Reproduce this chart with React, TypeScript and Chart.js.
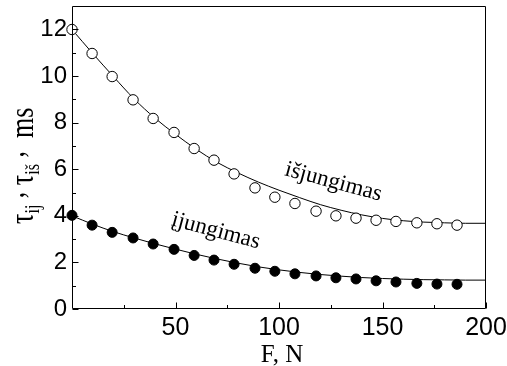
import React, { useEffect, useRef } from "react";
import { Chart, registerables } from "chart.js";
Chart.register(...registerables);

// Measured points
const forceN = [0, 9.7, 19.4, 29.5, 39.2, 49.3, 59, 68.6, 78.3, 88.4, 98, 107.7, 117.9, 127.5, 137.2, 146.9, 156.5, 166.6, 176.3, 186];
const offTimes = [12.0, 10.97, 9.98, 8.98, 8.18, 7.58, 6.89, 6.39, 5.8, 5.2, 4.8, 4.53, 4.2, 4.0, 3.9, 3.81, 3.76, 3.7, 3.66, 3.6];
const onTimes = [4.02, 3.6, 3.29, 3.05, 2.79, 2.56, 2.3, 2.1, 1.92, 1.75, 1.62, 1.51, 1.42, 1.34, 1.29, 1.21, 1.16, 1.1, 1.07, 1.06];

// Fitted curves
const fitForce = [0, 10, 20, 30, 40, 50, 60, 70, 80, 90, 100, 110, 120, 130, 140, 150, 160, 170, 180, 190, 200];
const offFit = [12.0, 10.97, 9.98, 9.02, 8.2, 7.5, 6.86, 6.3, 5.85, 5.45, 5.1, 4.78, 4.48, 4.24, 4.04, 3.89, 3.79, 3.73, 3.7, 3.68, 3.68];
const onFit = [4.0, 3.64, 3.32, 3.05, 2.8, 2.57, 2.35, 2.15, 1.97, 1.81, 1.68, 1.57, 1.48, 1.41, 1.35, 1.31, 1.28, 1.26, 1.25, 1.24, 1.24];

// Axis ticks
const xTicks = [50, 100, 150, 200];
const xMinor = [25, 75, 125, 175];
const yTicks = [0, 2, 4, 6, 8, 10, 12];
const yMinor = [1, 3, 5, 7, 9, 11];

const offLabel = "išjungimas";
const onLabel = "įjungimas";
const xTitle = "F, N";

const SERIF = "'Liberation Serif', 'Times New Roman', serif";
const SANS = "'Liberation Sans', Arial, sans-serif";

const framePlugin = {
  id: "frame",
  afterDraw(chart: any) {
    const { ctx, chartArea: a, scales } = chart;
    const sx = scales.x;
    const sy = scales.y;
    ctx.save();
    ctx.strokeStyle = "#000";
    ctx.lineWidth = 1;
    const L = Math.round(a.left) + 0.5;
    const R = Math.round(a.right) - 0.5;
    const T = Math.round(a.top) + 0.5;
    const B = Math.round(a.bottom) - 0.5;
    ctx.beginPath();
    ctx.moveTo(L, T);
    ctx.lineTo(R, T);
    ctx.lineTo(R, B);
    ctx.lineTo(L, B);
    ctx.closePath();
    for (const v of yTicks) {
      const p = Math.round(sy.getPixelForValue(v)) + 0.5;
      ctx.moveTo(L, p);
      ctx.lineTo(L + 6, p);
    }
    for (const v of yMinor) {
      const p = Math.round(sy.getPixelForValue(v)) + 0.5;
      ctx.moveTo(L, p);
      ctx.lineTo(L + 3.5, p);
    }
    for (const v of xTicks) {
      const p = Math.round(sx.getPixelForValue(v)) + 0.5;
      ctx.moveTo(p, B);
      ctx.lineTo(p, B - 6);
    }
    for (const v of xMinor) {
      const p = Math.round(sx.getPixelForValue(v)) + 0.5;
      ctx.moveTo(p, B);
      ctx.lineTo(p, B - 3.5);
    }
    ctx.stroke();

    ctx.fillStyle = "#000";
    // curve labels
    const drawRot = (txt: string, fx: number, fy: number) => {
      ctx.save();
      ctx.translate(sx.getPixelForValue(fx), sy.getPixelForValue(fy));
      ctx.rotate((15 * Math.PI) / 180);
      ctx.font = `23px ${SERIF}`;
      ctx.textAlign = "center";
      ctx.textBaseline = "middle";
      ctx.fillText(txt, 0, 0);
      ctx.restore();
    };
    drawRot(offLabel, 126.3, 5.45);
    drawRot(onLabel, 69.5, 3.35);

    // x title
    ctx.font = `25px ${SERIF}`;
    ctx.textAlign = "center";
    ctx.textBaseline = "alphabetic";
    ctx.fillText(xTitle, (a.left + a.right) / 2 + 3, 362);

    // y title with subscripts
    ctx.save();
    ctx.translate(33, 224);
    ctx.rotate(-Math.PI / 2);
    ctx.scale(1, 1.3);
    ctx.textAlign = "left";
    ctx.textBaseline = "alphabetic";
    let u = 0;
    const big = `26px ${SERIF}`;
    const small = `16px ${SERIF}`;
    const put = (t: string, f: string, dv: number) => {
      ctx.font = f;
      ctx.fillText(t, u, dv);
      u += ctx.measureText(t).width;
    };
    put("τ", big, 0);
    put("ij", small, 4.5);
    put(" ,", big, -7);
    put(" τ", big, 0);
    put("iš", small, 4.5);
    put(" ,", big, -7);
    put("  ms", big, 0);
    ctx.restore();

    ctx.restore();
  },
};

export default function App() {
  const ref = useRef<HTMLCanvasElement | null>(null);
  useEffect(() => {
    if (!ref.current) return;
    const pts = (xs: number[], ys: number[]) => xs.map((x, i) => ({ x, y: ys[i] }));
    const chart = new Chart(ref.current, {
      type: "scatter",
      data: {
        datasets: [
          {
            data: pts(forceN, offTimes),
            showLine: false,
            pointRadius: 5.2,
            pointBackgroundColor: "#fff",
            pointBorderColor: "#000",
            pointBorderWidth: 1,
            clip: false,
          },
          {
            data: pts(forceN, onTimes),
            showLine: false,
            pointRadius: 5,
            pointBackgroundColor: "#000",
            pointBorderColor: "#000",
            pointBorderWidth: 1,
            clip: false,
          },
          {
            data: pts(fitForce, offFit),
            showLine: true,
            pointRadius: 0,
            borderColor: "#000",
            borderWidth: 1,
            cubicInterpolationMode: "monotone",
          },
          {
            data: pts(fitForce, onFit),
            showLine: true,
            pointRadius: 0,
            borderColor: "#000",
            borderWidth: 1,
            cubicInterpolationMode: "monotone",
          },
        ],
      } as any,
      options: {
        animation: false,
        responsive: false,
        devicePixelRatio: 1,
        layout: { padding: { top: 6, right: 21, left: 0, bottom: 0 } },
        plugins: { legend: { display: false }, tooltip: { enabled: false } },
        scales: {
          x: {
            type: "linear",
            min: 0,
            max: 200,
            grid: { display: false, drawTicks: false },
            border: { display: false },
            ticks: { color: "#000", font: { family: SANS, size: 25 }, padding: 4, maxRotation: 0, autoSkip: false },
            afterBuildTicks: (s: any) => {
              s.ticks = xTicks.map((v) => ({ value: v }));
            },
            afterFit: (s: any) => {
              s.height = 57;
              s.paddingLeft = 0;
              s.paddingRight = 0;
            },
          },
          y: {
            type: "linear",
            min: 0,
            max: 13,
            grid: { display: false, drawTicks: false },
            border: { display: false },
            ticks: { color: "#000", font: { family: SANS, size: 24 }, padding: 5, autoSkip: false },
            afterBuildTicks: (s: any) => {
              s.ticks = yTicks.map((v) => ({ value: v }));
            },
            afterFit: (s: any) => {
              s.width = 72;
              s.paddingTop = 0;
              s.paddingBottom = 0;
            },
          },
        },
      } as any,
      plugins: [framePlugin],
    });
    return () => chart.destroy();
  }, []);
  return (
    <div style={{ position: "absolute", left: 0, top: 0, width: 507, height: 366, background: "#fff" }}>
      <canvas ref={ref} width={507} height={366} style={{ display: "block" }} />
    </div>
  );
}
